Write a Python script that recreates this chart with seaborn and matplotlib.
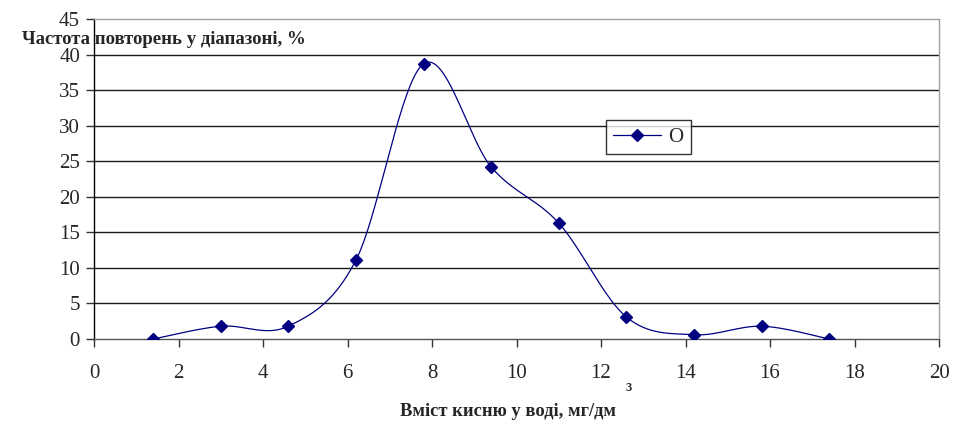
import numpy as np
import pandas as pd
import matplotlib
matplotlib.use("Agg")
import matplotlib.pyplot as plt
from matplotlib.lines import Line2D
import seaborn as sns

# Oxygen content bins (mg/dm3) and frequency of occurrence (%)
oxygen = [1.4, 3.0, 4.6, 6.2, 7.8, 9.4, 11.0, 12.6, 14.2, 15.8, 17.4]
frequency = [0.0, 1.8, 1.8, 11.1, 38.7, 24.2, 16.3, 3.1, 0.6, 1.8, 0.0]
series_name = "O"
x_ticks = list(range(0, 21, 2))
y_ticks = list(range(0, 46, 5))

LINE_COLOR = "#000080"

sns.set_theme(style="white")
plt.rcParams["font.family"] = ["Liberation Serif", "DejaVu Serif"]


def smooth_curve(xs, ys, steps=40):
    """Catmull-Rom style smoothing through every point (cubic Bezier segments)."""
    p = np.column_stack([xs, ys]).astype(float)
    p_ext = np.vstack([p[0], p, p[-1]])
    out = []
    t = np.linspace(0, 1, steps)[:, None]
    for i in range(1, len(p_ext) - 2):
        p0, p1, p2, p3 = p_ext[i - 1], p_ext[i], p_ext[i + 1], p_ext[i + 2]
        c1 = p1 + (p2 - p0) / 6.0
        c2 = p2 - (p3 - p1) / 6.0
        seg = ((1 - t) ** 3) * p1 + 3 * ((1 - t) ** 2) * t * c1 + 3 * (1 - t) * t ** 2 * c2 + t ** 3 * p2
        out.append(seg if i == 1 else seg[1:])
    out = np.vstack(out)
    return out[:, 0], out[:, 1]


df = pd.DataFrame({"oxygen": oxygen, "frequency": frequency})
sx, sy = smooth_curve(df["oxygen"].values, df["frequency"].values)
curve = pd.DataFrame({"x": sx, "y": sy})

fig = plt.figure(figsize=(9.74, 4.21), dpi=100)
ax = fig.add_axes([94 / 974, 1 - 339 / 421, (939 - 94) / 974, (339 - 19) / 421])

sns.lineplot(data=curve, x="x", y="y", ax=ax, color=LINE_COLOR, lw=0.9,
             sort=False, estimator=None, legend=False)
ax.plot(df["oxygen"], df["frequency"], linestyle="none", marker="D",
        ms=6, color=LINE_COLOR, zorder=5)

ax.set_xlim(0, 20)
ax.set_ylim(0, 45)
ax.set_xticks(x_ticks)
ax.set_yticks(y_ticks)
ax.set_xticklabels([str(v) for v in x_ticks], fontsize=15)
ax.set_yticklabels([str(v) for v in y_ticks], fontsize=15)
ax.set_xlabel("")
ax.set_ylabel("")

# horizontal grid
ax.grid(False)
for v in y_ticks[1:-1]:
    ax.axhline(v, color="#1a1a1a", lw=1.0, zorder=0)

ax.tick_params(axis="both", which="both", direction="out", length=6, width=1,
               color="#333333", left=True, bottom=True)
ax.tick_params(axis="x", pad=12)
ax.tick_params(axis="y", pad=4)
for name, spine in ax.spines.items():
    spine.set_visible(True)
    spine.set_linewidth(1.0)
ax.spines["left"].set_color("black")
ax.spines["bottom"].set_color("#555555")
ax.spines["top"].set_color("#a0a0a0")
ax.spines["right"].set_color("#a0a0a0")

handle = Line2D([], [], color=LINE_COLOR, lw=0.9, marker="D", ms=6)
leg = ax.legend([handle], [series_name], loc="upper left",
                bbox_to_anchor=((606 - 94) / 845, (339 - 120) / 320),
                frameon=True, fancybox=False, shadow=False, fontsize=15,
                handlelength=2.3, handletextpad=0.35, borderpad=0.35,
                borderaxespad=0)
leg.get_frame().set_edgecolor("black")
leg.get_frame().set_linewidth(1.0)

fig.text(22 / 974, 1 - 40 / 421, "Частота повторень у діапазоні, %",
         ha="left", va="center", fontsize=13.5, fontweight="bold")
fig.text(400 / 974, 1 - 411 / 421, "Вміст кисню у воді, мг/дм",
         ha="left", va="center", fontsize=13.3, fontweight="bold")
fig.text(625 / 974, 1 - 388 / 421, "3", ha="left", va="center",
         fontsize=9, fontweight="bold")

fig.savefig("out.png", dpi=100)
